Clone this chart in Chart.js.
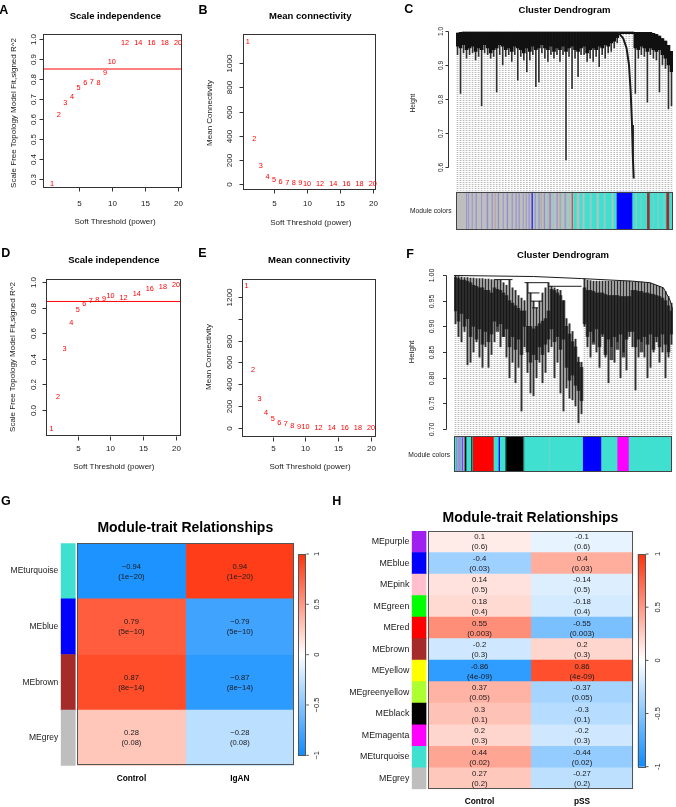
<!DOCTYPE html>
<html>
<head>
<meta charset="utf-8">
<title>WGCNA soft threshold, dendrograms and module-trait heatmaps</title>
<script src="https://cdn.jsdelivr.net/npm/chart.js@4.4.1/dist/chart.umd.min.js"></script>
<style>
  html, body { margin: 0; padding: 0; background: #fff; }
  #fig { position: relative; width: 676px; height: 807px; overflow: hidden;
         font-family: "Liberation Sans", Arial, sans-serif; color: #1a1a1a; }
  #fig canvas { position: absolute; left: 0; top: 0; }
  .lbl { position: absolute; white-space: nowrap; line-height: 1; transform: translate(-50%, -50%); }
  .rot { transform: translate(-50%, -50%) rotate(-90deg); }
  .panel { font-weight: bold; font-size: 12.5px; color: #000; }
  .ttl { font-weight: bold; font-size: 9.5px; color: #000; }
  .axt { font-size: 8px; }
  .hm-ttl { font-family: "Liberation Sans Narrow", "Liberation Sans", Arial, sans-serif; font-weight: bold; font-size: 14px; color: #000; }
</style>
</head>
<body>
<div id="fig"></div>
<script>
// ══════════════════════════════════════════════
//  DATA
// ══════════════════════════════════════════════
const powers = [1, 2, 3, 4, 5, 6, 7, 8, 9, 10, 12, 14, 16, 18, 20];
const fitA   = [0.275, 0.62, 0.68, 0.712, 0.755, 0.78, 0.783, 0.78, 0.83, 0.885, 0.98, 0.98, 0.98, 0.98, 0.978];
const connB  = [1180, 370, 152, 60, 30, 17, 10, 7, 5, 4, 2, 1, 1, 0, 0];
const fitD   = [-0.146, 0.10, 0.475, 0.68, 0.78, 0.83, 0.856, 0.864, 0.87, 0.89, 0.88, 0.91, 0.945, 0.963, 0.976];
const connE  = [1300, 529, 264, 142, 85, 51, 39, 23, 16, 11, 5, 3, 2, 1, 1];
const fitCut = 0.85;

const powerTicks = [5, 10, 15, 20];
const fitTicksA  = [0.3, 0.4, 0.5, 0.6, 0.7, 0.8, 0.9, 1.0];
const connTicksB = [0, 200, 400, 600, 800, 1000];
const fitTicksD  = [0, 0.2, 0.4, 0.6, 0.8, 1.0];
const connTicksE = [0, 200, 400, 600, 800, 1000, 1200];
const connLabelsE = ['0', '200', '400', '600', '800', '', '1200'];

// dendrogram C: per leaf top of branch, bottom of merged mass, bottom of leaf line
const cTop = [0.994,0.996,0.997,0.997,0.997,0.997,0.997,0.997,0.997,0.997,
  0.997,0.997,0.997,0.997,0.997,0.997,0.997,0.997,0.997,0.997,
  0.997,0.997,0.997,0.997,0.997,0.997,0.997,0.997,0.997,0.997,
  0.997,0.997,0.997,0.997,0.997,0.997,0.997,0.997,0.997,0.997,
  0.997,0.997,0.997,0.997,0.997,0.997,0.997,0.997,0.997,0.997,
  0.997,0.997,0.997,0.997,0.997,0.997,0.997,0.997,0.997,0.996,
  0.996,0.996,0.996,0.996,0.996,0.993,0.99,0.985,0.978,0.97,
  0.958,0.94];
const cMassLow = [0.955,0.95,0.96,0.945,0.95,0.955,0.94,0.95,0.945,0.96,
  0.95,0.935,0.945,0.95,0.96,0.955,0.945,0.95,0.94,0.955,
  0.95,0.945,0.935,0.95,0.94,0.955,0.945,0.95,0.96,0.95,
  0.945,0.955,0.94,0.95,0.945,0.955,0.94,0.95,0.955,0.945,
  0.94,0.95,0.955,0.935,0.945,0.95,0.945,0.955,0.95,0.96,
  0.955,0.965,0.97,0.98,0.992,0.992,0.992,0.992,0.992,0.95,
  0.945,0.955,0.95,0.94,0.95,0.945,0.94,0.945,0.93,0.92,
  0.90,0.88];
const cLeafLow = [0.93,0.816,0.935,0.92,0.93,0.935,0.915,0.925,0.78,0.935,
  0.93,0.92,0.925,0.82,0.93,0.90,0.925,0.93,0.91,0.93,
  0.855,0.925,0.915,0.88,0.915,0.93,0.836,0.85,0.935,0.92,
  0.91,0.93,0.92,0.93,0.91,0.93,0.62,0.925,0.83,0.92,
  0.865,0.93,0.93,0.91,0.92,0.91,0.925,0.895,0.93,0.92,
  0.935,0.94,0.95,0.965,0.992,0.992,0.992,0.992,0.992,0.816,
  0.92,0.93,0.925,0.79,0.93,0.92,0.915,0.82,0.9,0.89,
  0.77,0.78];
const cCurveX = [53.35, 55.0, 56.1, 56.9, 57.46, 57.9, 58.2, 58.46];
const cCurveY = [0.996, 0.978, 0.949, 0.90, 0.821, 0.723, 0.624, 0.565];
const cHeightTicks = [0.6, 0.7, 0.8, 0.9, 1.0];

// dendrogram F
const fTop = [0.999,0.997,0.996,0.995,0.995,0.994,0.994,0.993,0.993,0.993,0.992,0.992,0.991,
  0.991,0.99,0.99,0.985,0.98,0.99,0.975,0.97,0.96,0.955,0.95,
  0.985,0.965,0.949,0.936,0.949,0.965,0.975,0.985,
  0.978,0.975,0.972,0.97,0.95,0.915,0.905,0.89,0.875,0.84,0.83,
  0.992,0.99,0.989,0.988,0.988,0.988,0.988,0.988,0.988,0.988,0.988,0.988,0.988,0.988,0.988,0.988,
  0.987,0.987,0.986,0.986,0.985,0.985,0.984,0.982,0.98,0.978,0.975,0.968,0.958,0.945];
const fDenseTop = [0.995,0.993,0.99,0.99,0.988,0.985,0.98,0.978,0.975,0.975,0.97,0.97,0.965,
  0.975,0.972,0.97,0.965,0.96,0.95,0.945,0.94,0.935,0.93,0.93,
  0.90,0.90,0.895,0.90,0.905,0.91,0.915,0.93,
  0.972,0.97,0.965,0.96,0.95,0.90,0.885,0.87,0.86,0.83,0.82,
  0.975,0.97,0.97,0.968,0.965,0.965,0.965,0.962,0.96,0.96,0.96,0.96,0.958,0.958,0.958,0.958,
  0.97,0.97,0.968,0.968,0.965,0.965,0.963,0.962,0.96,0.958,0.955,0.95,0.94,0.93];
const fDenseLow = [0.93,0.91,0.925,0.9,0.915,0.88,0.9,0.875,0.895,0.865,0.89,0.87,0.885,
  0.91,0.89,0.905,0.88,0.895,0.86,0.88,0.855,0.875,0.845,0.9,
  0.85,0.83,0.845,0.835,0.86,0.845,0.865,0.875,
  0.895,0.87,0.88,0.855,0.875,0.82,0.795,0.805,0.785,0.775,0.755,
  0.905,0.88,0.89,0.865,0.895,0.86,0.885,0.845,0.875,0.835,0.88,0.855,0.885,0.84,0.875,0.89,
  0.89,0.86,0.875,0.85,0.88,0.865,0.885,0.855,0.88,0.86,0.885,0.865,0.85,0.885];
const fLeafLow = [0.905,0.88,0.87,0.89,0.825,0.83,0.85,0.87,0.84,0.82,0.86,0.82,0.845,
  0.87,0.90,0.86,0.88,0.84,0.80,0.83,0.79,0.82,0.735,0.86,
  0.81,0.77,0.765,0.80,0.83,0.79,0.81,0.85,
  0.86,0.80,0.83,0.77,0.735,0.78,0.76,0.757,0.745,0.712,0.73,
  0.90,0.86,0.84,0.87,0.85,0.82,0.88,0.84,0.79,0.86,0.83,0.87,0.80,0.85,0.815,0.88,
  0.86,0.776,0.84,0.87,0.84,0.80,0.82,0.85,0.87,0.83,0.85,0.80,0.84,0.865];
const fOutlineX = [-0.5, 26, 42, 59, 64.8, 69.3, 71.5, 72.5];
const fOutlineY = [0.999, 0.997, 0.993, 0.988, 0.985, 0.975, 0.951, 0.93];
const fMergeFrom = [13, 23, 31, 24, 25, 25.5];
const fMergeTo   = [19, 31, 42, 28, 29, 27.5];
const fMergeAt   = [0.991, 0.985, 0.978, 0.965, 0.949, 0.936];
const fHeightTicks = [0.70, 0.75, 0.80, 0.85, 0.90, 0.95, 1.00];

// module colour strips (start, in % of gene order)
const GB = 'grey/grey/grey/blue', GT = 'grey/grey/turquoise', GR = 'grey/grey/grey/brown';
const cStripStart = [0,4.8,5.3,5.8,6.2,7.4,7.8,9.2,9.7,11.75,12.2,14.3,15.0,16.6,17.1,18.0,18.4,19.4,20.0,21.7,
  22.1,23.5,24.2,25.8,26.3,27.6,28.1,29.0,29.5,30.9,31.3,32.3,32.7,33.6,34.1,35.0,35.5,36.4,36.9,37.8,
  38.2,38.7,39.2,39.6,40.6,41.2,41.9,42.4,42.9,43.3,44.0,44.7,45.4,46.5,47.0,47.9,48.4,49.1,50.2,50.7,
  51.4,52.1,52.8,53.5,53.9,54.4,55.8,56.7,57.1,58.5,59.4,61.8,62.7,65.0,65.9,68.2,69.1,71.9,72.6,74.2,
  81.4,82.9,83.4,85.3,85.7,88.2,89.4,90.8,91.2,93.1,93.5,95.8,96.3,97.1,98.4];
const cStripModule = ['grey',GB,'grey',GB,'grey',GB,'grey',GB,'grey',GB,'grey',GB,'grey',GB,'grey',GR,'grey',GB,'grey',GB,
  'grey',GB,'grey',GB,'grey',GB,'grey',GB,'grey',GB,'grey',GB,'grey',GB,'grey','blue','grey',GB,'grey',GT,
  GB,'grey',GR,'grey',GB,'grey',GT,'grey',GR,GB,'grey',GT,'grey',GB,'grey',GR,GT,'grey',GB,GT,
  'grey',GT,'grey','brown','grey','turquoise','grey',GT,'turquoise','grey','turquoise',GT,'turquoise','grey','turquoise',GT,'turquoise','grey','turquoise','blue',
  'turquoise','grey','turquoise',GT,'turquoise','brown','turquoise',GT,'turquoise','grey','turquoise',GT,'turquoise','brown','turquoise'];
const fStripStart = [0,1.07,1.7,2.14,2.75,3.06,3.52,3.82,4.28,5.05,5.81,8.1,8.56,8.87,18.35,20.64,21.25,23.55,24.16,31.8,32.4,43.7,44.0,59.3,67.7,75.1,80.3];
const fStripModule = ['turquoise',GB,'turquoise','grey/magenta','turquoise',GB,'turquoise','magenta','turquoise','black','turquoise','black','turquoise','red',
  'turquoise','blue','turquoise','black/turquoise','black','black/turquoise','turquoise',GT,'turquoise','blue','turquoise','magenta','turquoise'];

// module-trait correlations
const gModules = ['turquoise', 'blue', 'brown', 'grey'];
const gControl = [-0.94, 0.79, 0.87, 0.28];
const gIgAN    = [0.94, -0.79, -0.87, -0.28];
const gPvalue  = ['1e-20', '5e-10', '8e-14', '0.08'];
const hModules = ['purple', 'blue', 'pink', 'green', 'red', 'brown', 'yellow', 'greenyellow', 'black', 'magenta', 'turquoise', 'grey'];
const hControl = [0.1, -0.4, 0.14, 0.18, 0.55, -0.2, -0.86, 0.37, 0.3, 0.2, 0.44, 0.27];
const hPSS     = [-0.1, 0.4, -0.14, -0.18, -0.55, 0.2, 0.86, -0.37, -0.3, -0.2, -0.44, -0.27];
const hPvalue  = ['0.6', '0.03', '0.5', '0.4', '0.003', '0.3', '4e-09', '0.05', '0.1', '0.3', '0.02', '0.2'];
const legendTicks = [-1, -0.5, 0, 0.5, 1];

// ══════════════════════════════════════════════
//  HELPERS
// ══════════════════════════════════════════════
const W = 676, H = 807;
const FONT = '"Liberation Sans", Arial, sans-serif';
const fig = document.getElementById('fig');
const moduleHex = { turquoise: '#40E0D0', blue: '#0000FF', brown: '#A52A2A', grey: '#BEBEBE', purple: '#A020F0',
  pink: '#FFC0CB', green: '#00FF00', red: '#FF0000', yellow: '#FFFF00', greenyellow: '#ADFF2F', black: '#000000', magenta: '#FF00FF' };

function hexRgb(h) { const n = parseInt(h.slice(1), 16); return [n >> 16 & 255, n >> 8 & 255, n & 255]; }
function moduleColour(name) {
  const parts = name.split('/').map(p => hexRgb(moduleHex[p]));
  const c = [0, 1, 2].map(k => Math.round(parts.reduce((s, p) => s + p[k], 0) / parts.length));
  return `rgb(${c.join(',')})`;
}
// blue - white - red, like WGCNA blueWhiteRed
function corrColour(v) {
  const end = v < 0 ? [13, 140, 255] : [255, 50, 10];
  const t = Math.min(1, Math.abs(v));
  return `rgb(${end.map(e => Math.round(255 + (e - 255) * t)).join(',')})`;
}

function newCanvas() {
  const c = document.createElement('canvas');
  c.width = W; c.height = H;
  c.style.width = W + 'px'; c.style.height = H + 'px';
  fig.appendChild(c);
  return c;
}
function txt(s, x, y, cls, css) {
  const d = document.createElement('div');
  d.className = 'lbl ' + (cls || '');
  d.textContent = s;
  d.style.left = x + 'px'; d.style.top = y + 'px';
  if (css) d.style.cssText += css;
  fig.appendChild(d);
}
function baseOpts(area, scales, extra) {
  return Object.assign({
    responsive: false, animation: false, devicePixelRatio: 1, events: [],
    layout: { padding: { left: area.l, top: area.t, right: W - area.r, bottom: H - area.b } },
    plugins: { legend: { display: false }, tooltip: { enabled: false } },
    scales
  }, extra || {});
}
function dottedFill() {
  const c = document.createElement('canvas'); c.width = 1; c.height = 2;
  const g = c.getContext('2d'); g.fillStyle = '#b9b9b9'; g.fillRect(0, 0, 1, 1);
  return g.createPattern(c, 'repeat');
}

// R base-graphics style axes (box, outward ticks, rotated y labels)
function rAxes(cfg) {
  return {
    id: 'rAxes',
    afterDatasetsDraw(chart) {
      const { ctx, chartArea: a, scales: { x, y } } = chart;
      ctx.save();
      ctx.strokeStyle = '#333'; ctx.fillStyle = '#1a1a1a'; ctx.lineWidth = 1;
      ctx.font = cfg.font; ctx.textAlign = 'center'; ctx.textBaseline = 'middle';
      const seg = (x1, y1, x2, y2) => { ctx.beginPath(); ctx.moveTo(x1, y1); ctx.lineTo(x2, y2); ctx.stroke(); };
      if (cfg.box) ctx.strokeRect(Math.round(a.left) + .5, Math.round(a.top) + .5, Math.round(a.right - a.left) - 1, Math.round(a.bottom - a.top) - 1);
      (cfg.xTicks || []).forEach(v => {
        const px = Math.round(x.getPixelForValue(v)) + .5, b = Math.round(a.bottom) - .5;
        seg(px, b, px, b + cfg.tick);
        ctx.fillText(String(v), px, a.bottom + cfg.xLabOff);
      });
      if (cfg.yTicks) {
        const ax = cfg.yAxisX != null ? Math.round(cfg.yAxisX) + .5 : Math.round(a.left) + .5;
        const pys = cfg.yTicks.map(v => Math.round(y.getPixelForValue(v)) + .5);
        if (cfg.yAxisX != null) seg(ax, pys[0], ax, pys[pys.length - 1]);
        pys.forEach((py, i) => {
          seg(ax - cfg.tick, py, ax, py);
          ctx.save(); ctx.translate(ax - cfg.yLabOff, py); ctx.rotate(-Math.PI / 2);
          ctx.fillText(cfg.yLabels[i], 0, 0); ctx.restore();
        });
      }
      ctx.restore();
    }
  };
}
function pointText(labels) {
  return {
    id: 'pointText',
    afterDatasetsDraw(chart) {
      const ctx = chart.ctx;
      ctx.save(); ctx.fillStyle = '#ff0000'; ctx.font = '7.3px ' + FONT;
      ctx.textAlign = 'center'; ctx.textBaseline = 'middle';
      chart.getDatasetMeta(0).data.forEach((p, i) => ctx.fillText(labels[i], p.x, p.y));
      ctx.restore();
    }
  };
}
function frame(colour) {
  return {
    id: 'frame',
    afterDatasetsDraw(chart) {
      const { ctx, chartArea: a } = chart;
      ctx.save(); ctx.strokeStyle = colour; ctx.lineWidth = 1;
      ctx.strokeRect(Math.round(a.left) + .5, Math.round(a.top) + .5, Math.round(a.right - a.left) - 1, Math.round(a.bottom - a.top) - 1);
      ctx.restore();
    }
  };
}

// ══════════════════════════════════════════════
//  PANELS: SOFT THRESHOLD
// ══════════════════════════════════════════════
function softPanel(cfg) {
  const [xMin, xMax] = cfg.xRange;
  const datasets = [{ data: powers.map((p, i) => ({ x: p, y: cfg.values[i] })), pointRadius: 0 }];
  if (cfg.cut != null) datasets.push({ type: 'line', data: [{ x: xMin, y: cfg.cut }, { x: xMax, y: cfg.cut }],
    borderColor: '#ff0000', borderWidth: 1, pointRadius: 0 });
  new Chart(newCanvas(), {
    type: 'scatter',
    data: { datasets },
    options: baseOpts(cfg.area, {
      x: { type: 'linear', display: false, min: xMin, max: xMax },
      y: { type: 'linear', display: false, min: cfg.yRange[0], max: cfg.yRange[1] }
    }),
    plugins: [rAxes({ box: true, font: '8px ' + FONT, tick: 4, xTicks: powerTicks, xLabOff: cfg.xLabOff,
      yTicks: cfg.yTicks, yLabels: cfg.yLabels, yLabOff: cfg.yLabOff }), pointText(powers.map(String))]
  });
}

softPanel({ area: { l: 43, t: 34, r: 182, b: 188 }, xRange: [-0.37, 20.6], yRange: [0.255, 1.025], values: fitA, cut: fitCut,
  yTicks: fitTicksA, yLabels: fitTicksA.map(v => v.toFixed(1)), xLabOff: 16, yLabOff: 10 });
softPanel({ area: { l: 243.3, t: 34, r: 376.7, b: 190 }, xRange: [0.33, 20.6], yRange: [-49.7, 1242.8], values: connB,
  yTicks: connTicksB, yLabels: connTicksB.map(String), xLabOff: 14, yLabOff: 13.3 });
softPanel({ area: { l: 46, t: 279.3, r: 181, b: 436.7 }, xRange: [0.16, 20.76], yRange: [-0.209, 1.0235], values: fitD, cut: fitCut,
  yTicks: fitTicksD, yLabels: fitTicksD.map(v => v.toFixed(1)), xLabOff: 12.3, yLabOff: 12.7 });
softPanel({ area: { l: 241.7, t: 279.3, r: 376, b: 437.7 }, xRange: [0.27, 20.76], yRange: [-85.7, 1358.6], values: connE,
  yTicks: connTicksE, yLabels: connLabelsE, xLabOff: 11.3, yLabOff: 12.4 });

// ══════════════════════════════════════════════
//  PANELS: DENDROGRAMS + MODULE COLOURS
// ══════════════════════════════════════════════
function dendroPanel(cfg) {
  const idx = cfg.top.map((_, i) => i);
  const yMin = cfg.yRange[0];
  const bar = { grouped: false, borderWidth: 0 };
  const datasets = [
    Object.assign({ data: idx.map(i => ({ x: i, y: [yMin, cfg.leafLow[i]] })), backgroundColor: dottedFill(), barThickness: 1, order: 4 }, bar),
    Object.assign({ data: idx.map(i => ({ x: i, y: [cfg.leafLow[i], cfg.top[i]] })), backgroundColor: '#2e2e2e', barThickness: cfg.leafWidth, order: 3 }, bar),
    Object.assign({ data: idx.map(i => ({ x: i, y: [cfg.denseLow[i], cfg.denseTop[i]] })), backgroundColor: cfg.denseColour,
      barPercentage: 1, categoryPercentage: 1, order: 2 }, bar)
  ];
  cfg.lines.forEach(l => datasets.push({ type: 'line', data: l.x.map((v, i) => ({ x: v, y: l.y[i] })),
    borderColor: '#1a1a1a', borderWidth: l.w || 1, pointRadius: 0, tension: 0, order: 1 }));
  new Chart(newCanvas(), {
    type: 'bar',
    data: { datasets },
    options: baseOpts(cfg.area, {
      x: { type: 'linear', display: false, offset: false, min: -0.5, max: idx.length - 0.5 },
      y: { type: 'linear', display: false, min: cfg.yRange[0], max: cfg.yRange[1] }
    }),
    plugins: [rAxes({ font: cfg.font, tick: cfg.tick, yAxisX: cfg.axisX, yTicks: cfg.ticks, yLabels: cfg.labels, yLabOff: cfg.yLabOff })]
  });
}
function colourStrip(cfg) {
  const ends = cfg.start.slice(1).concat([100]);
  new Chart(newCanvas(), {
    type: 'bar',
    data: { labels: ['modules'], datasets: [{
      data: cfg.start.map((s, i) => ({ y: 'modules', x: [s, ends[i]] })),
      backgroundColor: cfg.modules.map(moduleColour),
      grouped: false, barPercentage: 1, categoryPercentage: 1, borderWidth: 0
    }] },
    options: baseOpts(cfg.area, {
      x: { type: 'linear', display: false, min: 0, max: 100 },
      y: { type: 'category', display: false }
    }, { indexAxis: 'y' }),
    plugins: [frame('#444')]
  });
}

dendroPanel({ area: { l: 456, t: 25, r: 673, b: 190.7 }, yRange: [0.529, 1.0177],
  top: cTop, denseTop: cTop, denseLow: cMassLow, leafLow: cLeafLow, denseColour: '#111', leafWidth: 1,
  lines: [{ x: cCurveX, y: cCurveY, w: 2 }],
  axisX: 448.3, tick: 3, ticks: cHeightTicks, labels: cHeightTicks.map(v => v.toFixed(1)), yLabOff: 7.3, font: '6.5px ' + FONT });
colourStrip({ area: { l: 456, t: 191.7, r: 673, b: 229.3 }, start: cStripStart, modules: cStripModule });

dendroPanel({ area: { l: 454, t: 268, r: 673, b: 435 }, yRange: [0.6883, 1.0136],
  top: fTop, denseTop: fDenseTop, denseLow: fDenseLow, leafLow: fLeafLow, denseColour: 'rgba(15,15,15,0.72)', leafWidth: 1.3,
  lines: [{ x: fOutlineX, y: fOutlineY }].concat(fMergeAt.map((h, i) => ({ x: [fMergeFrom[i], fMergeTo[i]], y: [h, h] }))),
  axisX: 445.7, tick: 3.5, ticks: fHeightTicks, labels: fHeightTicks.map(v => v.toFixed(2)), yLabOff: 14, font: '7px ' + FONT });
colourStrip({ area: { l: 454, t: 436, r: 672, b: 472 }, start: fStripStart, modules: fStripModule });

// ══════════════════════════════════════════════
//  PANELS: MODULE-TRAIT HEATMAPS
// ══════════════════════════════════════════════
function heatDecor(cfg) {
  const fmt = s => String(s).replace(/-/g, cfg.minus);
  return {
    id: 'heatDecor',
    afterDatasetsDraw(chart) {
      const { ctx, chartArea: a, scales: { x } } = chart;
      ctx.save();
      const l = Math.round(x.getPixelForValue(0)) + .5, r = Math.round(x.getPixelForValue(cfg.traits.length)) - .5;
      ctx.strokeStyle = '#555'; ctx.lineWidth = 1;
      ctx.strokeRect(l, Math.round(a.top) + .5, r - l, Math.round(a.bottom - a.top) - 1);

      ctx.fillStyle = '#1a1a1a'; ctx.textBaseline = 'middle';
      ctx.font = cfg.rowFont; ctx.textAlign = 'right';
      chart.getDatasetMeta(0).data.forEach((el, i) => ctx.fillText('ME' + cfg.modules[i], a.left - 2.4, el.y));

      ctx.font = cfg.cellFont; ctx.textAlign = 'center';
      cfg.traits.forEach((t, j) => {
        chart.getDatasetMeta(j + 1).data.forEach((el, i) => {
          const cx = (el.x + el.base) / 2;
          ctx.fillText(fmt(t.r[i]), cx, el.y - 4.5);
          ctx.fillText('(' + fmt(cfg.p[i]) + ')', cx, el.y + 5.5);
        });
      });

      ctx.font = 'bold 8.3px ' + FONT; ctx.fillStyle = '#000';
      cfg.traits.forEach((t, j) => ctx.fillText(t.name, x.getPixelForValue(j + 0.5), cfg.colY));

      // colour key
      const k = cfg.key;
      const g = ctx.createLinearGradient(0, k.t, 0, k.b);
      g.addColorStop(0, corrColour(1)); g.addColorStop(0.5, '#ffffff'); g.addColorStop(1, corrColour(-1));
      ctx.fillStyle = g; ctx.fillRect(k.l, k.t, k.r - k.l, k.b - k.t);
      ctx.strokeStyle = '#555'; ctx.strokeRect(Math.round(k.l) + .5, Math.round(k.t) + .5, Math.round(k.r - k.l), Math.round(k.b - k.t));
      ctx.fillStyle = '#1a1a1a'; ctx.font = '7.5px ' + FONT;
      legendTicks.forEach(v => {
        const py = k.b - (v + 1) / 2 * (k.b - k.t);
        ctx.beginPath(); ctx.moveTo(k.r + 1, py); ctx.lineTo(k.r + 3.5, py); ctx.stroke();
        ctx.save(); ctx.translate(k.lab, py); ctx.rotate(-Math.PI / 2);
        ctx.fillText(fmt(v), 0, 0); ctx.restore();
      });
      ctx.restore();
    }
  };
}
function heatPanel(cfg) {
  const cell = { grouped: false, barPercentage: 1, categoryPercentage: 1, borderWidth: 0 };
  const datasets = [Object.assign({ data: cfg.modules.map(m => ({ y: m, x: cfg.side })), backgroundColor: cfg.modules.map(moduleColour) }, cell)]
    .concat(cfg.traits.map((t, j) => Object.assign({ data: cfg.modules.map(m => ({ y: m, x: [j, j + 1] })), backgroundColor: t.r.map(corrColour) }, cell)));
  new Chart(newCanvas(), {
    type: 'bar',
    data: { labels: cfg.modules, datasets },
    options: baseOpts(cfg.area, {
      x: { type: 'linear', display: false, min: cfg.side[0], max: cfg.traits.length },
      y: { type: 'category', display: false }
    }, { indexAxis: 'y' }),
    plugins: [heatDecor(cfg)]
  });
}

heatPanel({ area: { l: 60.7, t: 543.3, r: 294, b: 765.7 }, side: [-0.153, -0.0185], modules: gModules, p: gPvalue,
  traits: [{ name: 'Control', r: gControl }, { name: 'IgAN', r: gIgAN }], minus: '\u2212',
  rowFont: '8.5px ' + FONT, cellFont: '7.6px ' + FONT, colY: 779, key: { l: 298.3, r: 305.3, t: 554, b: 755.3, lab: 316.7 } });
heatPanel({ area: { l: 411.7, t: 531, r: 633.3, b: 789.3 }, side: [-0.162, -0.022], modules: hModules, p: hPvalue,
  traits: [{ name: 'Control', r: hControl }, { name: 'pSS', r: hPSS }], minus: '-',
  rowFont: '8.8px ' + FONT, cellFont: '7.8px ' + FONT, colY: 801.7, key: { l: 637.7, r: 645, t: 554, b: 766.7, lab: 658 } });

// ══════════════════════════════════════════════
//  TEXT
// ══════════════════════════════════════════════
[['A', 3.7, 10.3], ['B', 203, 10.3], ['C', 408.7, 9.2], ['D', 5.8, 252.8],
 ['E', 202.5, 252.5], ['F', 410, 254.2], ['G', 5.8, 501.3], ['H', 336.7, 501.3]].forEach(p => txt(p[0], p[1], p[2], 'panel'));

txt('Scale independence', 115.3, 15.8, 'ttl');
txt('Mean connectivity', 310.3, 16, 'ttl');
txt('Cluster Dendrogram', 564.5, 10.3, 'ttl');
txt('Scale independence', 113.8, 259.7, 'ttl');
txt('Mean connectivity', 309.2, 259.7, 'ttl');
txt('Cluster Dendrogram', 563, 254.5, 'ttl');

txt('Soft Threshold (power)', 115, 221.7, 'axt');
txt('Soft Threshold (power)', 310.8, 222.7, 'axt');
txt('Soft Threshold (power)', 113.8, 467.3, 'axt');
txt('Soft Threshold (power)', 310, 467.3, 'axt');
txt('Scale Free Topology Model Fit,signed R^2', 14, 112.5, 'axt rot');
txt('Mean Connectivity', 210, 113.3, 'axt rot');
txt('Scale Free Topology Model Fit,signed R^2', 13.3, 356.7, 'axt rot');
txt('Mean Connectivity', 209.3, 356.7, 'axt rot');

txt('Height', 413.3, 103, 'rot', 'font-size:6.5px');
txt('Module colors', 430.8, 210.7, '', 'font-size:6.7px');
txt('Height', 411.7, 351.7, 'rot', 'font-size:8px');
txt('Module colors', 429.2, 455.3, '', 'font-size:6.7px');

txt('Module-trait Relationships', 185.3, 526.7, 'hm-ttl');
txt('Module-trait Relationships', 530.5, 516.7, 'hm-ttl');
</script>
</body>
</html>
